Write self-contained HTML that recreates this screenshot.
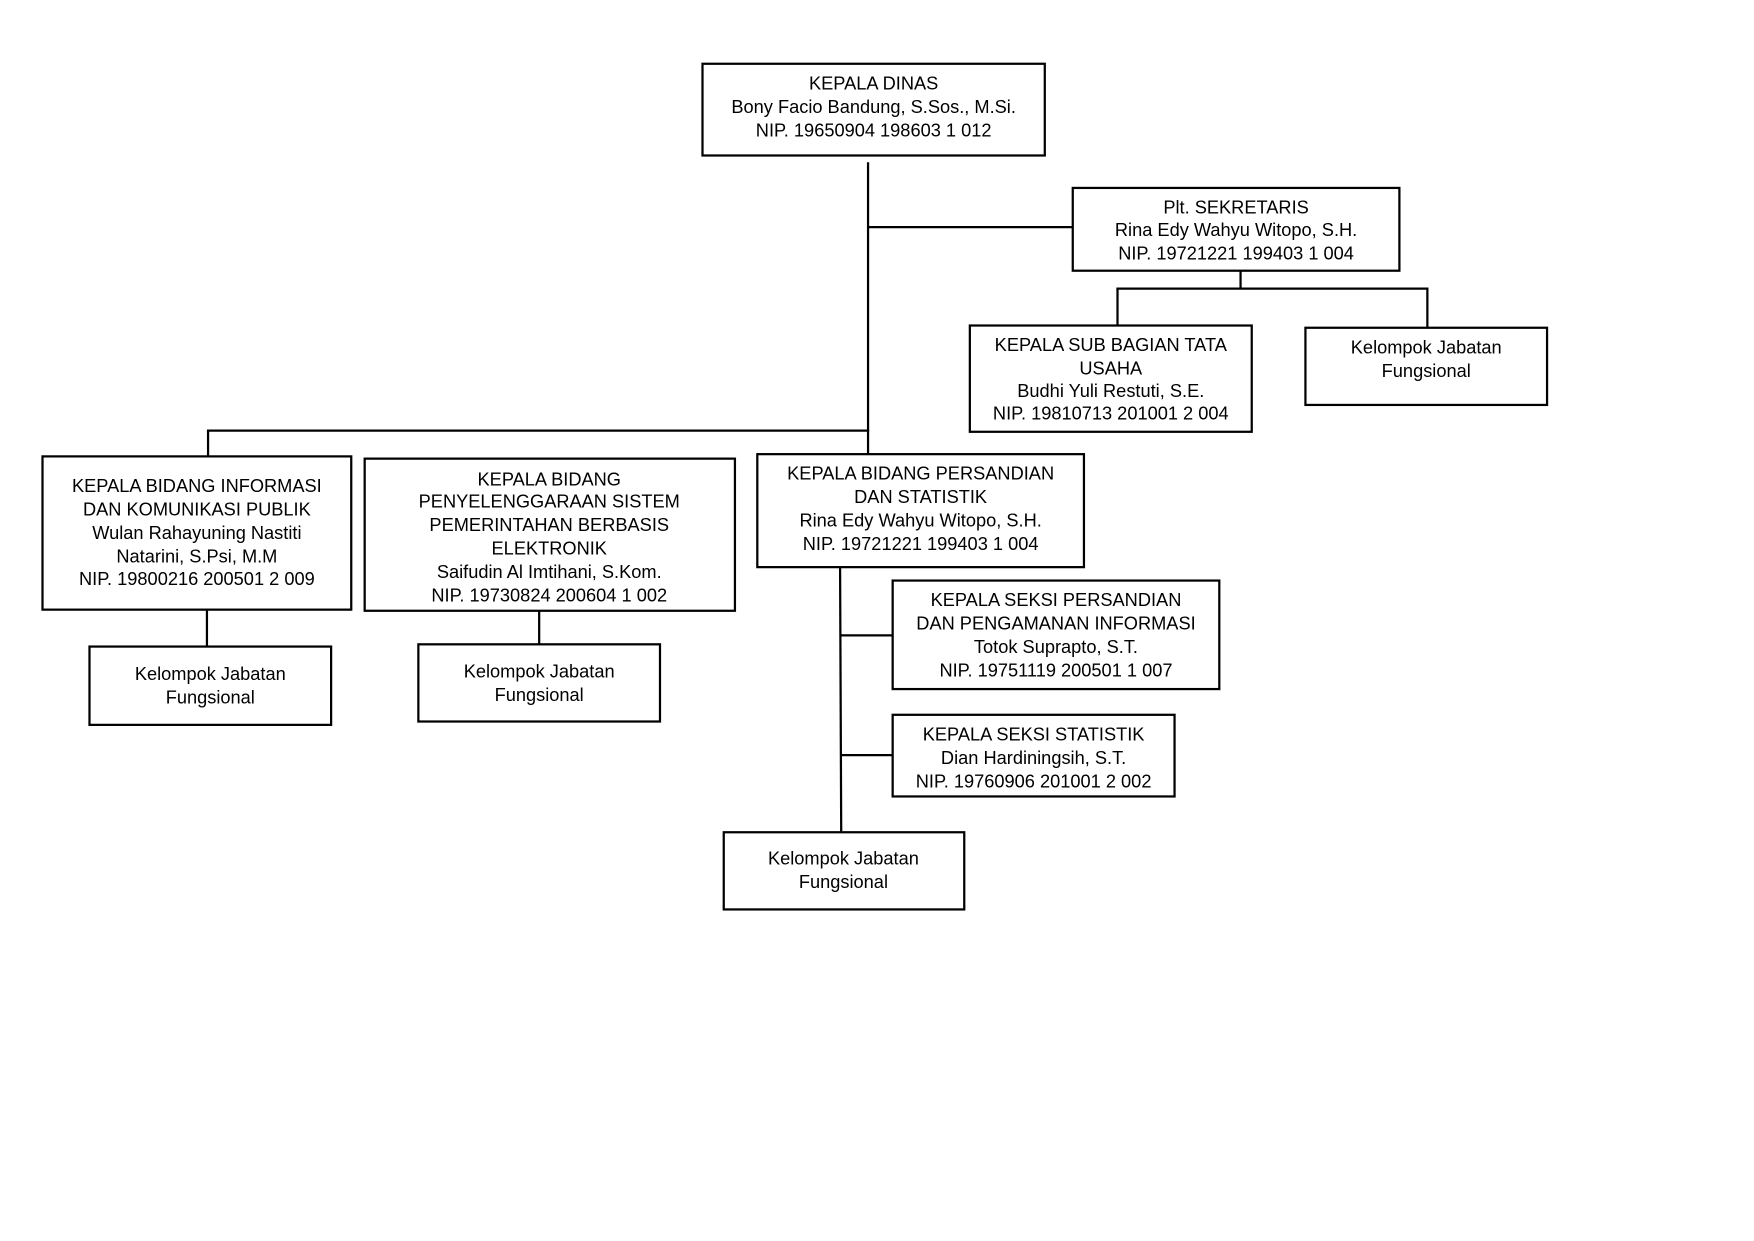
<!DOCTYPE html>
<html><head><meta charset="utf-8"><style>
html,body{margin:0;padding:0;background:#fff;}
svg{display:block;}
text{font-family:"Liberation Sans",Arial,sans-serif;font-size:16.3px;fill:#000;text-anchor:middle;dominant-baseline:central;}
rect{fill:#fff;stroke:#000;stroke-width:2;}
line{stroke:#000;stroke-width:2;}
</style></head><body>
<svg width="1754" height="1241" viewBox="0 0 1568 1109.4" preserveAspectRatio="none" xmlns="http://www.w3.org/2000/svg">
<rect x="0" y="0" width="1568" height="1110" style="fill:#fff;stroke:none"/>
<!-- connectors -->
<line x1="776" y1="145" x2="776" y2="406"/>
<line x1="776" y1="203" x2="959" y2="203"/>
<line x1="185" y1="385" x2="777" y2="385"/>
<line x1="186" y1="385" x2="186" y2="408"/>
<line x1="1109" y1="242" x2="1109" y2="258"/>
<line x1="998" y1="258" x2="1277" y2="258"/>
<line x1="999" y1="258" x2="999" y2="291"/>
<line x1="1276" y1="258" x2="1276" y2="293"/>
<line x1="185" y1="545" x2="185" y2="578"/>
<line x1="482" y1="546" x2="482" y2="576"/>
<line x1="751" y1="507" x2="752" y2="744"/>
<line x1="751" y1="568" x2="798" y2="568"/>
<line x1="751" y1="675" x2="798" y2="675"/>
<!-- boxes -->
<rect x="628" y="57" width="306" height="82"/>
<text x="781" y="74">KEPALA DINAS</text>
<text x="781" y="95">Bony Facio Bandung, S.Sos., M.Si.</text>
<text x="781" y="116">NIP. 19650904 198603 1 012</text>

<rect x="959" y="168" width="292" height="74"/>
<text x="1105" y="185">Plt. SEKRETARIS</text>
<text x="1105" y="205">Rina Edy Wahyu Witopo, S.H.</text>
<text x="1105" y="226">NIP. 19721221 199403 1 004</text>

<rect x="867" y="291" width="252" height="95"/>
<text x="993" y="308">KEPALA SUB BAGIAN TATA</text>
<text x="993" y="329">USAHA</text>
<text x="993" y="349">Budhi Yuli Restuti, S.E.</text>
<text x="993" y="369">NIP. 19810713 201001 2 004</text>

<rect x="1167" y="293" width="216" height="69"/>
<text x="1275" y="310">Kelompok Jabatan</text>
<text x="1275" y="331">Fungsional</text>

<rect x="38" y="408" width="276" height="137"/>
<text x="176" y="434">KEPALA BIDANG INFORMASI</text>
<text x="176" y="455">DAN KOMUNIKASI PUBLIK</text>
<text x="176" y="476">Wulan Rahayuning Nastiti</text>
<text x="176" y="497">Natarini, S.Psi, M.M</text>
<text x="176" y="517">NIP. 19800216 200501 2 009</text>

<rect x="326" y="410" width="331" height="136"/>
<text x="491" y="428">KEPALA BIDANG</text>
<text x="491" y="448">PENYELENGGARAAN SISTEM</text>
<text x="491" y="469">PEMERINTAHAN BERBASIS</text>
<text x="491" y="490">ELEKTRONIK</text>
<text x="491" y="511">Saifudin Al Imtihani, S.Kom.</text>
<text x="491" y="532">NIP. 19730824 200604 1 002</text>

<rect x="677" y="406" width="292" height="101"/>
<text x="823" y="423">KEPALA BIDANG PERSANDIAN</text>
<text x="823" y="444">DAN STATISTIK</text>
<text x="823" y="465">Rina Edy Wahyu Witopo, S.H.</text>
<text x="823" y="486">NIP. 19721221 199403 1 004</text>

<rect x="80" y="578" width="216" height="70"/>
<text x="188" y="602">Kelompok Jabatan</text>
<text x="188" y="623">Fungsional</text>

<rect x="374" y="576" width="216" height="69"/>
<text x="482" y="600">Kelompok Jabatan</text>
<text x="482" y="621">Fungsional</text>

<rect x="798" y="519" width="292" height="97"/>
<text x="944" y="536">KEPALA SEKSI PERSANDIAN</text>
<text x="944" y="557">DAN PENGAMANAN INFORMASI</text>
<text x="944" y="578">Totok Suprapto, S.T.</text>
<text x="944" y="599">NIP. 19751119 200501 1 007</text>

<rect x="798" y="639" width="252" height="73"/>
<text x="924" y="656">KEPALA SEKSI STATISTIK</text>
<text x="924" y="677">Dian Hardiningsih, S.T.</text>
<text x="924" y="698">NIP. 19760906 201001 2 002</text>

<rect x="647" y="744" width="215" height="69"/>
<text x="754" y="767">Kelompok Jabatan</text>
<text x="754" y="788">Fungsional</text>
</svg>
</body></html>
